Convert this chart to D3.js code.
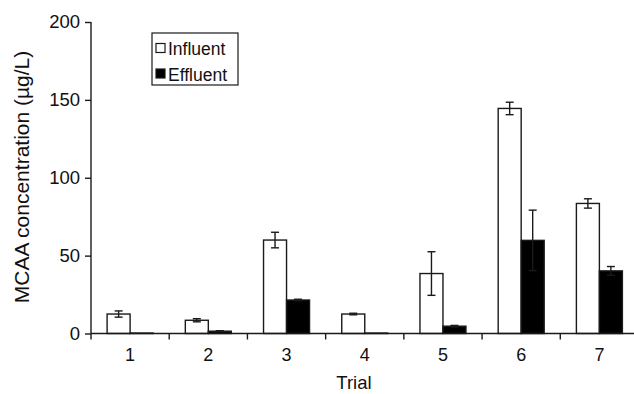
<!DOCTYPE html>
<html>
<head>
<meta charset="utf-8">
<script src="https://cdn.jsdelivr.net/npm/d3@7"></script>
<style>
  body { margin: 0; background: #fff; }
  text { font-family: "Liberation Sans", Arial, sans-serif; fill: #111; }
</style>
</head>
<body>
<svg id="chart" width="634" height="394"></svg>
<script>
// data
var trials = ["1", "2", "3", "4", "5", "6", "7"];
var influent = [12.5, 8.5, 60, 12.5, 38.5, 144.5, 83.5];
var influentErr = [2, 1, 5, 0.5, 14, 4, 3];
var effluent = [0.3, 1.5, 21.5, 0.3, 4.7, 59.8, 40.2];
var effluentErr = [0, 0.3, 0.5, 0, 0.5, 19.4, 2.8];
var yTicks = [0, 50, 100, 150, 200];

var svg = d3.select("#chart");
var ink = "#1a1a1a";

// scales
var x = d3.scaleBand()
  .domain(trials)
  .range([91, 638.5])
  .padding(0);

var y = d3.scaleLinear()
  .domain([0, 200])
  .range([333.5, 22]);

var barW = 23;

// bars, influent then effluent
var series = [
  { name: "Influent", values: influent, errs: influentErr, fill: "#fff", off: -barW },
  { name: "Effluent", values: effluent, errs: effluentErr, fill: "#000", off: 0 }
];

series.forEach(function(s) {
  var g = svg.append("g");
  g.selectAll("rect")
    .data(trials)
    .enter()
    .append("rect")
      .attr("x", function(d) { return x(d) + x.bandwidth() / 2 + s.off; })
      .attr("y", function(d, i) { return y(s.values[i]); })
      .attr("width", barW)
      .attr("height", function(d, i) { return y(0) - y(s.values[i]); })
      .attr("fill", s.fill)
      .attr("stroke", ink)
      .attr("stroke-width", 1.4);
});

// error bars
series.forEach(function(s) {
  trials.forEach(function(t, i) {
    if (s.errs[i] <= 0) return;
    var cx = x(t) + x.bandwidth() / 2 + s.off + barW / 2;
    var hi = y(s.values[i] + s.errs[i]);
    var lo = y(Math.max(0, s.values[i] - s.errs[i]));
    var g = svg.append("g").attr("stroke", ink).attr("stroke-width", 1.4);
    g.append("line").attr("x1", cx).attr("x2", cx).attr("y1", hi).attr("y2", lo);
    g.append("line").attr("x1", cx - 4).attr("x2", cx + 4).attr("y1", hi).attr("y2", hi);
    g.append("line").attr("x1", cx - 4).attr("x2", cx + 4).attr("y1", lo).attr("y2", lo);
  });
});

// y axis
var yAxis = svg.append("g")
  .attr("transform", "translate(91,0)")
  .call(d3.axisLeft(y).tickValues(yTicks).tickSize(6).tickPadding(5));
yAxis.select(".domain").attr("stroke", ink).attr("stroke-width", 1.4)
  .attr("d", "M0," + y(200) + "V" + y(0));
yAxis.selectAll(".tick line").attr("stroke", ink).attr("stroke-width", 1.4);
yAxis.selectAll(".tick text")
  .attr("font-size", 18.5)
  .style("font-family", "Liberation Sans, Arial, sans-serif")
  .attr("fill", "#111");

// x axis: line along zero, ticks between trials
svg.append("line")
  .attr("x1", 91).attr("x2", 634)
  .attr("y1", y(0)).attr("y2", y(0))
  .attr("stroke", ink).attr("stroke-width", 1.4);

svg.append("g")
  .selectAll("line")
  .data(trials.slice(1))
  .enter()
  .append("line")
    .attr("x1", function(d) { return x(d); })
    .attr("x2", function(d) { return x(d); })
    .attr("y1", y(0))
    .attr("y2", y(0) + 6)
    .attr("stroke", ink)
    .attr("stroke-width", 1.4);

svg.append("line")
  .attr("x1", 91).attr("x2", 91)
  .attr("y1", y(0)).attr("y2", y(0) + 6)
  .attr("stroke", ink).attr("stroke-width", 1.4);

svg.append("g")
  .selectAll("text")
  .data(trials)
  .enter()
  .append("text")
    .attr("x", function(d) { return x(d) + x.bandwidth() / 2; })
    .attr("y", 361)
    .attr("text-anchor", "middle")
    .attr("font-size", 18)
    .text(function(d) { return d; });

// axis titles
svg.append("text")
  .attr("x", 354)
  .attr("y", 389)
  .attr("text-anchor", "middle")
  .attr("font-size", 18.5)
  .text("Trial");

svg.append("text")
  .attr("transform", "translate(29,177) rotate(-90)")
  .attr("text-anchor", "middle")
  .attr("font-size", 21)
  .text("MCAA concentration (µg/L)");

// legend
var legend = svg.append("g");
legend.append("rect")
  .attr("x", 152).attr("y", 33)
  .attr("width", 86).attr("height", 52)
  .attr("fill", "#fff")
  .attr("stroke", ink).attr("stroke-width", 1.2);

series.forEach(function(s, i) {
  var yy = 43.5 + i * 25.5;
  legend.append("rect")
    .attr("x", 156).attr("y", yy)
    .attr("width", 9).attr("height", 9)
    .attr("fill", s.fill)
    .attr("stroke", ink).attr("stroke-width", 1.2);
  legend.append("text")
    .attr("x", 168)
    .attr("y", yy + 11.5)
    .attr("font-size", 17.5)
    .text(s.name);
});
</script>
</body>
</html>
